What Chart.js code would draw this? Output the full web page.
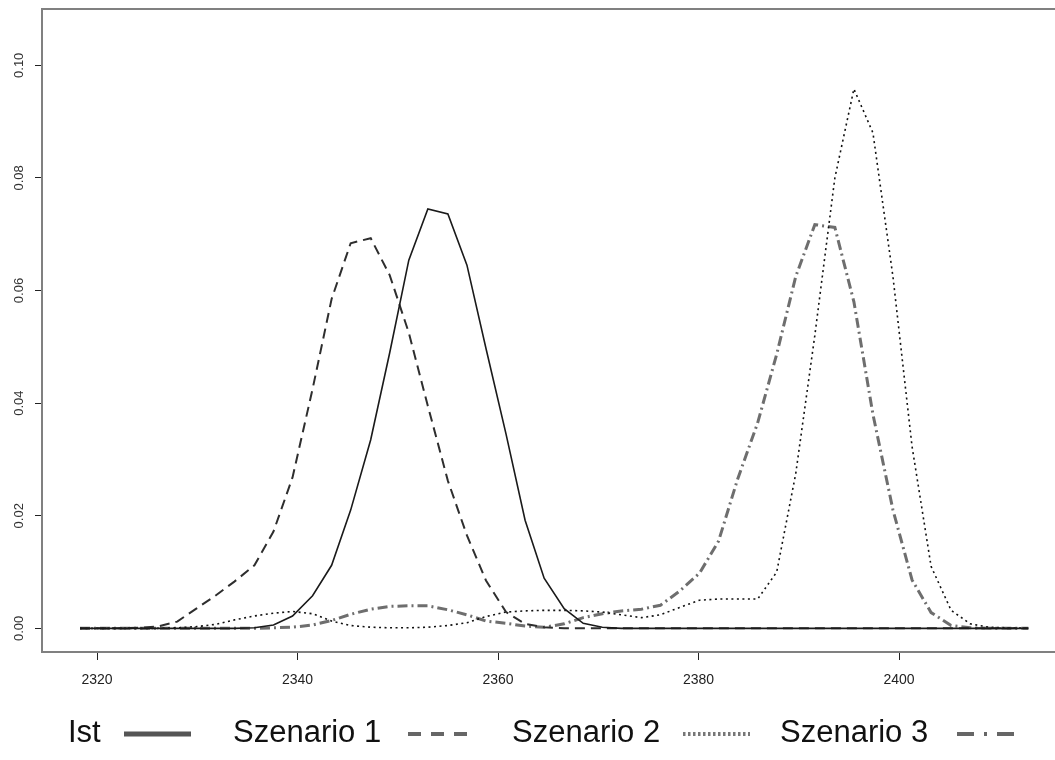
<!DOCTYPE html>
<html>
<head>
<meta charset="utf-8">
<script src="https://cdn.jsdelivr.net/npm/chart.js@4.4.1/dist/chart.umd.min.js"></script>
<style>
  html, body { margin: 0; padding: 0; background: #fff; }
  #wrap { width: 1055px; height: 760px; }
</style>
</head>
<body>
<div id="wrap"><canvas id="chart" width="1055" height="760"></canvas></div>
<script>
/* density curves (50 grid points each) */
var xValues = [
  2318.3, 2320.2, 2322.2, 2324.1, 2326.0, 2328.0, 2329.9, 2331.8, 2333.7, 2335.7,
  2337.6, 2339.5, 2341.5, 2343.4, 2345.3, 2347.3, 2349.2, 2351.1, 2353.0, 2355.0,
  2356.9, 2358.8, 2360.8, 2362.7, 2364.6, 2366.6, 2368.5, 2370.4, 2372.3, 2374.3,
  2376.2, 2378.1, 2380.1, 2382.0, 2383.9, 2385.9, 2387.8, 2389.7, 2391.6, 2393.6,
  2395.5, 2397.4, 2399.4, 2401.3, 2403.2, 2405.2, 2407.1, 2409.0, 2410.9, 2412.9
];
var ist = [
  0, 0, 0, 0, 0, 0, 0, 0, 0, 0.0001,
  0.0006, 0.0022, 0.0058, 0.0112, 0.0210, 0.0335, 0.0490, 0.0654, 0.0745, 0.0736,
  0.0645, 0.0497, 0.0345, 0.0192, 0.0089, 0.0035, 0.0009, 0.0002, 0, 0,
  0, 0, 0, 0, 0, 0, 0, 0, 0, 0,
  0, 0, 0, 0, 0, 0, 0, 0, 0, 0
];
var szenario1 = [
  0, 0, 0, 0.0001, 0.0003, 0.0012, 0.0035, 0.0058, 0.0083, 0.0112,
  0.0172, 0.0268, 0.0425, 0.0585, 0.0684, 0.0693, 0.0627, 0.0525, 0.0395, 0.0262,
  0.0165, 0.0085, 0.0029, 0.0008, 0.0002, 0, 0, 0, 0, 0,
  0, 0, 0, 0, 0, 0, 0, 0, 0, 0,
  0, 0, 0, 0, 0, 0, 0, 0, 0, 0
];
var szenario2 = [
  0, 0, 0, 0, 0, 0.0001, 0.0003, 0.0007, 0.0015, 0.0022,
  0.0027, 0.0030, 0.0026, 0.0013, 0.0005, 0.0002, 0.0001, 0.0001, 0.0002, 0.0005,
  0.0010, 0.0021, 0.0029, 0.0031, 0.0032, 0.0032, 0.0031, 0.0029, 0.0024, 0.0019,
  0.0024, 0.0037, 0.0050, 0.0052, 0.0052, 0.0052, 0.0100, 0.0275, 0.0520, 0.0800,
  0.0958, 0.0880, 0.0624, 0.0323, 0.0110, 0.0032, 0.0008, 0.0002, 0.0001, 0
];
var szenario3 = [
  0, 0, 0, 0, 0, 0, 0, 0, 0, 0,
  0.0001, 0.0002, 0.0006, 0.0014, 0.0025, 0.0034, 0.0039, 0.0040, 0.0040, 0.0033,
  0.0024, 0.0013, 0.0009, 0.0004, 0.0002, 0.0008, 0.0019, 0.0026, 0.0031, 0.0034,
  0.0041, 0.0066, 0.0098, 0.0155, 0.0265, 0.0365, 0.0487, 0.0625, 0.0717, 0.0712,
  0.0580, 0.0380, 0.0210, 0.0086, 0.0028, 0.0005, 0.0001, 0, 0, 0
];
var seriesNames = ['Ist', 'Szenario 1', 'Szenario 2', 'Szenario 3'];
var xTicks = [2320, 2340, 2360, 2380, 2400];
var yTicks = [0, 0.02, 0.04, 0.06, 0.08, 0.10];
var yTickLabels = ['0.00', '0.02', '0.04', '0.06', '0.08', '0.10'];

function pts(ys) {
  return xValues.map(function (x, i) { return { x: x, y: ys[i] }; });
}

var FONT = '"Liberation Sans", Arial, Helvetica, sans-serif';

/* legend swatches: where the R legend put them */
var legendLayout = [
  { textX: 68,  x1: 124, x2: 191, color: '#555', width: 5, dash: [] },
  { textX: 233, x1: 408, x2: 475, color: '#666', width: 4, dash: [13, 10] },
  { textX: 512, x1: 683, x2: 750, color: '#777', width: 4, dash: [2.5, 2.5] },
  { textX: 780, x1: 957, x2: 1017, color: '#666', width: 4, dash: [17, 10, 3, 10] }
];
var legendY = 733;

var framePlugin = {
  id: 'frame',
  afterDatasetsDraw: function (chart) {
    var a = chart.chartArea, ctx = chart.ctx;
    ctx.save();
    ctx.strokeStyle = '#808080';
    ctx.lineWidth = 2;
    ctx.beginPath();
    ctx.moveTo(chart.width + 5, a.top);
    ctx.lineTo(a.left, a.top);
    ctx.lineTo(a.left, a.bottom);
    ctx.lineTo(chart.width + 5, a.bottom);
    ctx.stroke();
    ctx.restore();
  }
};

/* rotated y labels, R style */
var yLabelPlugin = {
  id: 'yLabels',
  afterDraw: function (chart) {
    var ctx = chart.ctx, s = chart.scales.y;
    ctx.save();
    ctx.font = '13px ' + FONT;
    ctx.fillStyle = '#333';
    ctx.textAlign = 'center';
    ctx.textBaseline = 'middle';
    yTicks.forEach(function (v, i) {
      var py = s.getPixelForValue(v);
      ctx.save();
      ctx.translate(19, py);
      ctx.rotate(-Math.PI / 2);
      ctx.fillText(yTickLabels[i], 0, 0);
      ctx.restore();
    });
    ctx.restore();
  }
};

var legendPlugin = {
  id: 'rLegend',
  afterDraw: function (chart) {
    var ctx = chart.ctx;
    ctx.save();
    ctx.font = '31px ' + FONT;
    ctx.fillStyle = '#111';
    ctx.textAlign = 'left';
    ctx.textBaseline = 'middle';
    chart.data.datasets.forEach(function (ds, i) {
      var L = legendLayout[i];
      ctx.fillText(ds.label, L.textX, legendY);
      ctx.beginPath();
      ctx.strokeStyle = L.color;
      ctx.lineWidth = L.width;
      ctx.setLineDash(L.dash);
      ctx.moveTo(L.x1, legendY + 1);
      ctx.lineTo(L.x2, legendY + 1);
      ctx.stroke();
    });
    ctx.restore();
  }
};

new Chart(document.getElementById('chart'), {
  type: 'line',
  data: {
    datasets: [
      { label: seriesNames[0], data: pts(ist), borderColor: '#1a1a1a', borderWidth: 1.6 },
      { label: seriesNames[1], data: pts(szenario1), borderColor: '#2e2e2e', borderWidth: 2, borderDash: [10, 6] },
      { label: seriesNames[2], data: pts(szenario2), borderColor: '#111', borderWidth: 1.6, borderDash: [2, 3.5] },
      { label: seriesNames[3], data: pts(szenario3), borderColor: '#6e6e6e', borderWidth: 3, borderDash: [10, 4, 2, 4] }
    ]
  },
  options: {
    responsive: false,
    animation: false,
    devicePixelRatio: 1,
    layout: { padding: { top: 9, left: 0, right: 0, bottom: 68 } },
    elements: { point: { radius: 0 }, line: { tension: 0, fill: false } },
    plugins: { legend: { display: false }, tooltip: { enabled: false } },
    scales: {
      x: {
        type: 'linear',
        min: 2314.51,
        max: 2415.56,
        afterBuildTicks: function (s) { s.ticks = xTicks.map(function (v) { return { value: v }; }); },
        afterFit: function (s) { s.height = 40; },
        border: { display: false },
        grid: { drawOnChartArea: false, drawTicks: true, tickLength: 8, tickColor: '#222', tickWidth: 1 },
        ticks: { font: { family: FONT, size: 14 }, color: '#222', padding: 12, maxRotation: 0, autoSkip: false,
          callback: function (v) { return String(v); } }
      },
      y: {
        type: 'linear',
        min: -0.0042,
        max: 0.110,
        afterBuildTicks: function (s) { s.ticks = yTicks.map(function (v) { return { value: v }; }); },
        afterFit: function (s) { s.width = 42; },
        border: { display: false },
        grid: { drawOnChartArea: false, drawTicks: true, tickLength: 7, tickColor: '#222', tickWidth: 1 },
        ticks: { display: false }
      }
    }
  },
  plugins: [framePlugin, yLabelPlugin, legendPlugin]
});
</script>
</body>
</html>
